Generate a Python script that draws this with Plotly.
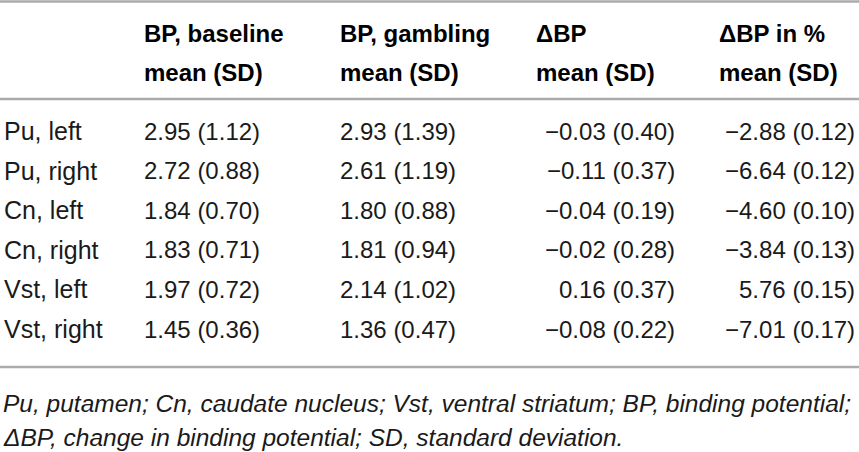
import plotly.graph_objects as go

regions = ["Pu, left", "Pu, right", "Cn, left", "Cn, right", "Vst, left", "Vst, right"]
bp_baseline = ["2.95 (1.12)", "2.72 (0.88)", "1.84 (0.70)", "1.83 (0.71)", "1.97 (0.72)", "1.45 (0.36)"]
bp_gambling = ["2.93 (1.39)", "2.61 (1.19)", "1.80 (0.88)", "1.81 (0.94)", "2.14 (1.02)", "1.36 (0.47)"]
delta_bp = ["\u22120.03 (0.40)", "\u22120.11 (0.37)", "\u22120.04 (0.19)", "\u22120.02 (0.28)", "0.16 (0.37)", "\u22120.08 (0.22)"]
delta_pct = ["\u22122.88 (0.12)", "\u22126.64 (0.12)", "\u22124.60 (0.10)", "\u22123.84 (0.13)", "5.76 (0.15)", "\u22127.01 (0.17)"]

headers_top = ["", "BP, baseline", "BP, gambling", "\u0394BP", "\u0394BP in %"]
headers_bottom = ["", "mean (SD)", "mean (SD)", "mean (SD)", "mean (SD)"]

footnote = ["<i>Pu, putamen; Cn, caudate nucleus; Vst, ventral striatum; BP, binding potential;</i>",
            "<i>\u0394BP, change in binding potential; SD, standard deviation.</i>"]

columns = [regions, bp_baseline, bp_gambling, delta_bp, delta_pct]

# positions in page pixels
col_x = [2, 142, 338, 677, 857]
col_anchor = ["left", "left", "left", "right", "right"]
col_size = [25, 24, 24, 24, 24]
head_x = [142, 142, 338, 534, 717]
row_y0 = 131
row_step = 39.6
font = "Liberation Sans, Arial, sans-serif"

fig = go.Figure()
ann = []
for c, col in enumerate(columns):
    for r, val in enumerate(col):
        ann.append(dict(x=col_x[c], y=row_y0 + r * row_step, text=val, xanchor=col_anchor[c],
                        yanchor="middle", showarrow=False,
                        font=dict(size=col_size[c], color="#1a1a1a", family=font)))
    if headers_top[c]:
        ann.append(dict(x=head_x[c], y=33, text="<b>" + headers_top[c] + "</b>", xanchor="left",
                        yanchor="middle", showarrow=False, font=dict(size=24, color="#000", family=font)))
        ann.append(dict(x=head_x[c], y=72, text="<b>" + headers_bottom[c] + "</b>", xanchor="left",
                        yanchor="middle", showarrow=False, font=dict(size=24, color="#000", family=font)))

for i, line in enumerate(footnote):
    ann.append(dict(x=1, y=403 + i * 34, text=line, xanchor="left", yanchor="middle", showarrow=False,
                    font=dict(size=24.5, color="#1a1a1a", family=font)))

for yl in [1.5, 99, 367]:
    fig.add_shape(type="line", x0=0, x1=859, y0=yl, y1=yl, line=dict(color="#ababab", width=2.5))

fig.update_layout(width=859, height=452, margin=dict(l=0, r=0, t=0, b=0),
                  paper_bgcolor="white", plot_bgcolor="white", annotations=ann,
                  xaxis=dict(range=[0, 859], visible=False, fixedrange=True),
                  yaxis=dict(range=[452, 0], visible=False, fixedrange=True),
                  showlegend=False)
# drop the browser's default body margin so the figure sits at the page corner
fig.write_html("out.html", config={"displayModeBar": False},
               post_script="document.body.style.margin='0';document.body.style.overflow='hidden';")
